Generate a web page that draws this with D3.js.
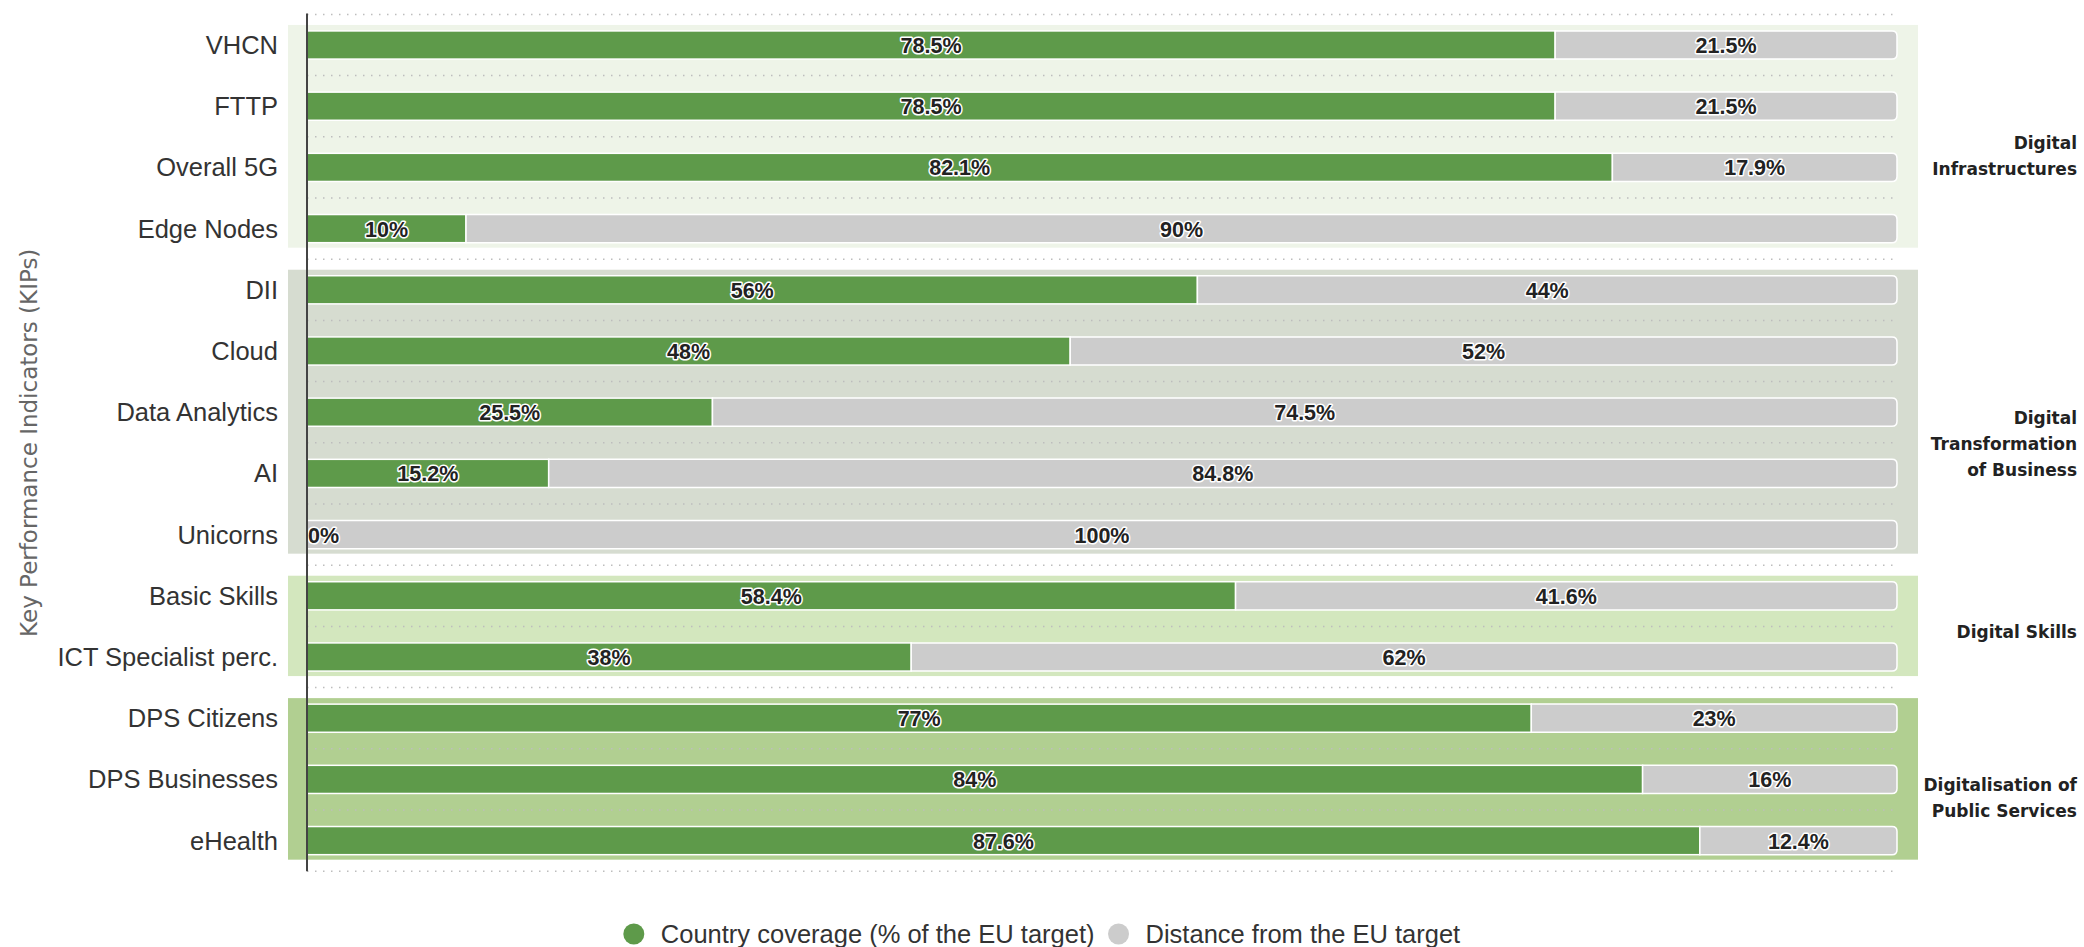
<!DOCTYPE html>
<html>
<head>
    <meta charset="utf-8">
    <title>KPI coverage of the EU target</title>
    <script src="https://cdnjs.cloudflare.com/ajax/libs/d3/7.8.5/d3.min.js"></script>
    <style>
        body {
            margin: 0;
            background: #ffffff;
            font-family: "Liberation Sans", Arial, sans-serif;
        }
        svg { display: block; }
    </style>
</head>
<body>
    <svg id="chart" width="2084" height="947"></svg>

    <script>
        // Datos
        const categories = ["VHCN", "FTTP", "Overall 5G", "Edge Nodes", "DII", "Cloud",
            "Data Analytics", "AI", "Unicorns", "Basic Skills", "ICT Specialist perc.",
            "DPS Citizens", "DPS Businesses", "eHealth"];
        const coverage = [78.5, 78.5, 82.1, 10, 56, 48, 25.5, 15.2, 0, 58.4, 38, 77, 84, 87.6];
        const distance = [21.5, 21.5, 17.9, 90, 44, 52, 74.5, 84.8, 100, 41.6, 62, 23, 16, 12.4];

        const groupNames = [["Digital", "Infrastructures"], ["Digital", "Transformation", "of Business"],
            ["Digital Skills"], ["Digitalisation of", "Public Services"]];
        const groupFirst = ["VHCN", "DII", "Basic Skills", "DPS Citizens"];
        const groupLast = ["Edge Nodes", "Unicorns", "ICT Specialist perc.", "eHealth"];
        const groupColors = ["#eef4e8", "#d6dcd0", "#d3e7be", "#b1cf91"];

        const seriesNames = ["Country coverage (% of the EU target)", "Distance from the EU target"];
        const seriesColors = ["#5e9a4a", "#cccccc"];

        const yTitle = "Key Performance Indicators (KIPs)";

        // Dimensiones
        const W = 2084;
        const svg = d3.select("#chart");
        const plot = {left: 307, right: 1897, top: 14.4, bottom: 871.2};

        const x = d3.scaleLinear().domain([0, 100]).range([plot.left, plot.right]);
        const y = d3.scaleBand().domain(categories)
            .range([plot.top, plot.bottom])
            .paddingInner(0.54).paddingOuter(0.27);
        const bw = y.bandwidth();
        const step = y.step();

        // Fondos de grupo
        groupNames.forEach((g, i) => {
            const y0 = y(groupFirst[i]) - 6;
            const y1 = y(groupLast[i]) + bw + 5;
            svg.append("rect")
                .attr("x", 288)
                .attr("y", y0)
                .attr("width", 1918 - 288)
                .attr("height", y1 - y0)
                .attr("fill", groupColors[i]);
        });

        // Líneas de cuadrícula punteadas (bordes de banda)
        const gridPos = categories.map(c => y(c) - (step - bw) / 2);
        gridPos.push(plot.bottom);
        svg.append("g").selectAll("line")
            .data(gridPos)
            .join("line")
            .attr("x1", plot.left)
            .attr("x2", plot.right - 4)
            .attr("y1", d => d)
            .attr("y2", d => d)
            .attr("stroke", "#bdbdbd")
            .attr("stroke-width", 1.5)
            .attr("stroke-dasharray", "1.5,6.5");

        const rows = categories.map((c, i) => ({cat: c, cov: coverage[i], dist: distance[i]}));

        // Barras verdes
        svg.append("g").selectAll("rect")
            .data(rows)
            .join("rect")
            .attr("x", x(0))
            .attr("y", d => y(d.cat))
            .attr("width", d => x(d.cov) - x(0))
            .attr("height", bw)
            .attr("fill", seriesColors[0])
            .attr("stroke", "#ffffff")
            .attr("stroke-width", 1.5);

        // Barras grises con esquinas redondeadas a la derecha
        function roundRight(x0, y0, w, h, r) {
            return `M${x0},${y0}H${x0 + w - r}Q${x0 + w},${y0} ${x0 + w},${y0 + r}` +
                `V${y0 + h - r}Q${x0 + w},${y0 + h} ${x0 + w - r},${y0 + h}H${x0}Z`;
        }

        svg.append("g").selectAll("path")
            .data(rows)
            .join("path")
            .attr("d", d => roundRight(x(d.cov), y(d.cat), x(d.cov + d.dist) - x(d.cov), bw, 5))
            .attr("fill", seriesColors[1])
            .attr("stroke", "#ffffff")
            .attr("stroke-width", 1.5);

        // Etiquetas de valores
        const labelStyle = sel => sel
            .attr("font-family", "'Liberation Sans', Arial, sans-serif")
            .attr("font-size", 21.5)
            .attr("font-weight", "bold")
            .attr("fill", "#222")
            .attr("stroke", "#ffffff")
            .attr("stroke-width", 3)
            .attr("stroke-linejoin", "round")
            .attr("paint-order", "stroke")
            .attr("dominant-baseline", "central");

        svg.append("g").selectAll("text")
            .data(rows)
            .join("text")
            .attr("x", d => d.cov === 0 ? x(0) + 1 : (x(0) + x(d.cov)) / 2)
            .attr("y", d => y(d.cat) + bw / 2 + 1)
            .attr("text-anchor", d => d.cov === 0 ? "start" : "middle")
            .text(d => d.cov + "%")
            .call(labelStyle);

        svg.append("g").selectAll("text")
            .data(rows)
            .join("text")
            .attr("x", d => (x(d.cov) + x(d.cov + d.dist)) / 2)
            .attr("y", d => y(d.cat) + bw / 2 + 1)
            .attr("text-anchor", "middle")
            .text(d => d.dist + "%")
            .call(labelStyle);

        // Eje Y
        svg.append("line")
            .attr("x1", plot.left).attr("x2", plot.left)
            .attr("y1", plot.top - 1).attr("y2", plot.bottom)
            .attr("stroke", "#444")
            .attr("stroke-width", 2);

        svg.append("g").selectAll("text")
            .data(categories)
            .join("text")
            .attr("x", 278)
            .attr("y", d => y(d) + bw / 2)
            .attr("text-anchor", "end")
            .attr("dominant-baseline", "central")
            .attr("font-size", 25.5)
            .attr("fill", "#333")
            .text(d => d);

        svg.append("text")
            .attr("transform", `translate(29,${(plot.top + plot.bottom) / 2}) rotate(-90)`)
            .attr("text-anchor", "middle")
            .attr("dominant-baseline", "central")
            .attr("font-family", "'DejaVu Sans', sans-serif")
            .attr("font-size", 23)
            .attr("fill", "#666")
            .text(yTitle);

        // Etiquetas de grupo a la derecha
        groupNames.forEach((lines, i) => {
            const mid = (y(groupFirst[i]) + y(groupLast[i]) + bw) / 2;
            const t = svg.append("text")
                .attr("x", 2077)
                .attr("y", mid + 12)
                .attr("text-anchor", "end")
                .attr("font-family", "'DejaVu Sans', sans-serif")
                .attr("font-size", 17)
                .attr("font-weight", "bold")
                .attr("fill", "#222");
            lines.forEach((l, j) => {
                t.append("tspan").attr("x", 2077).attr("dy", j === 0 ? 0 : 26).text(l);
            });
        });

        // Leyenda
        const legend = svg.append("g");
        let lx = 0;
        seriesNames.forEach((name, i) => {
            const item = legend.append("g").attr("transform", `translate(${lx},0)`);
            item.append("circle")
                .attr("cx", 10).attr("cy", 0).attr("r", 10.5)
                .attr("fill", seriesColors[i]);
            const t = item.append("text")
                .attr("x", 37).attr("y", 0)
                .attr("dominant-baseline", "central")
                .attr("font-size", 25.5)
                .attr("fill", "#333")
                .text(name);
            lx += 37 + t.node().getComputedTextLength() + 14;
        });
        const legendW = lx - 14;
        legend.attr("transform", `translate(${W / 2 - legendW / 2},934)`);
    </script>
</body>
</html>
